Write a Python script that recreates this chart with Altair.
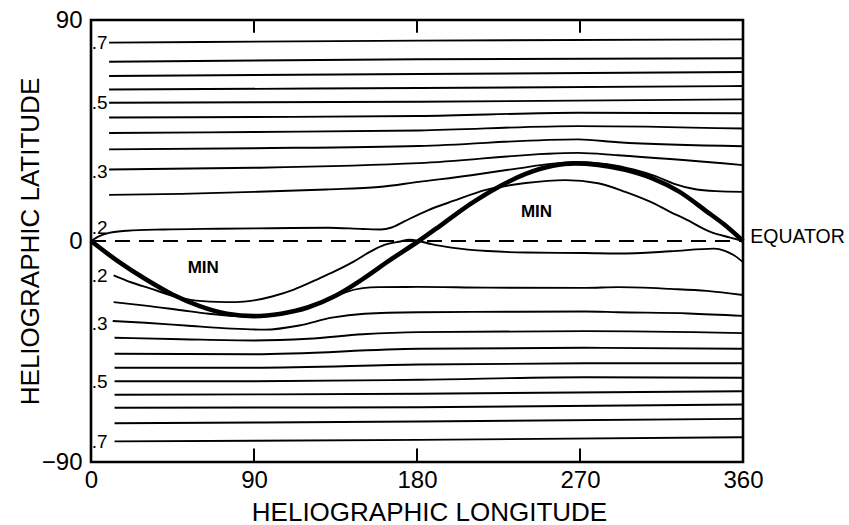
import altair as alt
import pandas as pd

FONT = "Liberation Sans"

X_TICKS = [0, 90, 180, 270, 360]
Y_TICKS = [-90, 0, 90]
INNER_TICK_LON = [90, 180, 270]

# ---- northern contours (longitude, latitude) ----
N70_LON = [10, 181, 360]
N70_LAT = [80.8, 81.6, 82.1]
N65_LON = [10, 181, 360]
N65_LAT = [73.0, 74.0, 74.4]
N60_LON = [10, 181, 360]
N60_LAT = [67.2, 68.0, 68.8]
N55_LON = [10, 181, 360]
N55_LAT = [61.7, 62.3, 63.1]
N50_LON = [10, 181, 360]
N50_LAT = [56.3, 56.7, 57.7]
N45_LON = [10, 90, 181, 269, 360]
N45_LAT = [50.3, 50.5, 50.9, 52.2, 52.0]
N40_LON = [10, 90, 181, 269, 360]
N40_LAT = [44.0, 44.4, 45.0, 46.8, 45.8]
N35_LON = [10, 90, 181, 269, 291, 360]
N35_LAT = [37.3, 37.8, 38.7, 41.4, 40.2, 38.6]
N30_LON = [10, 90, 181, 269, 291, 360]
N30_LAT = [29.1, 29.8, 31.7, 35.9, 34.9, 30.9]
N25_LON = [10, 50, 90, 130, 159, 181, 210, 236, 255, 268, 285, 300, 312, 322, 333, 345, 360]
N25_LAT = [18.8, 19.2, 20.0, 21.0, 22.0, 24.1, 26.8, 29.6, 31.5, 32.1, 31.3, 29.0, 26.3, 23.3, 21.2, 20.3, 20.0]
N20_LON = [0, 4, 10, 20, 40, 70, 100, 131, 150, 160, 166, 173, 186, 200, 218, 240, 262, 280, 295, 309, 320, 328, 342, 353, 360]
N20_LAT = [0, 1.8, 3.3, 4.2, 4.7, 5.0, 5.2, 5.4, 4.9, 4.7, 5.5, 8.0, 12.5, 16.3, 20.8, 23.6, 24.8, 23.5, 20.0, 15.9, 11.8, 9.0, 3.7, 1.4, 0]

# ---- southern contours ----
S20_LON = [12.5, 22, 33, 45, 55, 70, 80, 90, 100, 112, 125, 135, 145, 155, 162, 170, 176, 181, 188, 200, 219, 240, 273, 291, 320, 344, 350, 355, 360]
S20_LAT = [-14, -16.8, -19.4, -22.3, -24.0, -24.8, -24.9, -24.2, -22.6, -19.8, -15.6, -12.2, -8.4, -4.0, -1.6, -0.3, 0.5, 0, -1.3, -2.8, -4.1, -4.7, -4.9, -5.1, -4.2, -3.1, -4.0, -5.8, -8.6]
S25_LON = [12.5, 30, 50, 65, 80, 90, 100, 115, 130, 140, 150, 159, 180, 219, 273, 291, 320, 340, 360]
S25_LAT = [-24.9, -26.3, -28.2, -29.6, -30.6, -30.9, -30.4, -28.2, -24.5, -21.0, -19.2, -18.8, -18.7, -19.0, -19.1, -18.8, -19.5, -20.3, -22.0]
S30_LON = [12, 30, 52, 78, 96, 115, 133, 151, 181, 230, 273, 291, 330, 360]
S30_LAT = [-32.6, -33.3, -34.4, -35.7, -36.1, -34.4, -31.2, -29.6, -29.0, -28.8, -28.7, -29.0, -29.5, -30.5]
S35_LON = [13, 50, 90, 120, 150, 181, 273, 360]
S35_LAT = [-39.4, -40.0, -40.5, -39.8, -38.0, -37.1, -36.7, -37.5]
S40_LON = [13, 90, 181, 273, 360]
S40_LAT = [-45.9, -46.1, -43.9, -43.5, -43.9]
S45_LON = [13, 90, 181, 273, 360]
S45_LAT = [-51.6, -51.6, -50.3, -49.8, -49.8]
S50_LON = [13, 90, 181, 273, 360]
S50_LAT = [-57.1, -57.1, -56.5, -55.5, -55.7]
S55_LON = [13, 181, 360]
S55_LAT = [-62.6, -62.2, -61.2]
S60_LON = [13, 181, 360]
S60_LAT = [-67.9, -67.7, -66.6]
S65_LON = [13, 181, 360]
S65_LAT = [-74.2, -73.5, -72.4]
S70_LON = [13, 181, 360]
S70_LAT = [-81.6, -81.0, -79.9]

# ---- neutral line (thick) ----
THICK_LON = [0, 15, 30, 45, 60, 75, 90, 105, 120, 135, 150, 165, 181, 195, 210, 225, 240, 255, 267, 280, 295, 310, 325, 340, 350, 360]
THICK_LAT = [0, -8.3, -15.5, -21.8, -26.5, -29.6, -30.6, -29.6, -27.0, -22.3, -15.5, -7.8, 0, 7.4, 15.3, 22.0, 27.3, 30.6, 31.6, 31.0, 29.0, 25.5, 20.0, 12.0, 6.5, 0]

EQUATOR_LON = [0, 360]
EQUATOR_LAT = [0, 0]

# ---- labels ----
LEVEL_TEXT = [".7", ".5", ".3", ".2", ".2", ".3", ".5", ".7"]
LEVEL_LON = [0.4, 0.4, 0.4, 0.4, 0.4, 0.4, 0.4, 0.4]
LEVEL_LAT = [80.5, 56.0, 28.2, 5.2, -14.4, -33.6, -57.6, -82.0]
MIN_TEXT = ["MIN", "MIN"]
MIN_LON = [62, 246]
MIN_LAT = [-11.1, 11.7]
EQ_TEXT = ["EQUATOR"]
EQ_LON = [364.0]
EQ_LAT = [1.5]

contours = [
    ("N70", N70_LON, N70_LAT), ("N65", N65_LON, N65_LAT), ("N60", N60_LON, N60_LAT),
    ("N55", N55_LON, N55_LAT), ("N50", N50_LON, N50_LAT), ("N45", N45_LON, N45_LAT),
    ("N40", N40_LON, N40_LAT), ("N35", N35_LON, N35_LAT), ("N30", N30_LON, N30_LAT),
    ("N25", N25_LON, N25_LAT), ("N20", N20_LON, N20_LAT),
    ("S20", S20_LON, S20_LAT), ("S25", S25_LON, S25_LAT), ("S30", S30_LON, S30_LAT),
    ("S35", S35_LON, S35_LAT), ("S40", S40_LON, S40_LAT), ("S45", S45_LON, S45_LAT),
    ("S50", S50_LON, S50_LAT), ("S55", S55_LON, S55_LAT), ("S60", S60_LON, S60_LAT),
    ("S65", S65_LON, S65_LAT), ("S70", S70_LON, S70_LAT),
]
rows = []
for name, lons, lats in contours:
    for i, (a, b) in enumerate(zip(lons, lats)):
        rows.append({"line": name, "order": i, "lon": a, "lat": b})
thin_df = pd.DataFrame(rows)
thick_df = pd.DataFrame({"lon": THICK_LON, "lat": THICK_LAT, "order": range(len(THICK_LON))})
eq_df = pd.DataFrame({"lon": EQUATOR_LON, "lat": EQUATOR_LAT})

tick_df = pd.DataFrame({
    "lon": INNER_TICK_LON + INNER_TICK_LON,
    "lat": [-90] * 3 + [90] * 3,
    "lat2": [-84.5] * 3 + [84.8] * 3,
})
level_df = pd.DataFrame({"lon": LEVEL_LON, "lat": LEVEL_LAT, "t": LEVEL_TEXT})
min_df = pd.DataFrame({"lon": MIN_LON, "lat": MIN_LAT, "t": MIN_TEXT})
eqt_df = pd.DataFrame({"lon": EQ_LON, "lat": EQ_LAT, "t": EQ_TEXT})

X_ENC = alt.X(
    "lon:Q",
    scale=alt.Scale(domain=[0, 360], nice=False, zero=False),
    axis=alt.Axis(
        values=X_TICKS, title="HELIOGRAPHIC LONGITUDE", grid=False, domain=False,
        ticks=False, labelFlush=False, labelFontSize=24, labelFont=FONT,
        labelPadding=6, labelColor="black", labelAngle=0,
        titleFont=FONT, titleFontSize=26, titleFontWeight="normal", titleColor="black",
        titleX=338, titleY=58, titleBaseline="alphabetic", titleAlign="center",
    ),
)
Y_ENC = alt.Y(
    "lat:Q",
    scale=alt.Scale(domain=[-90, 90], nice=False, zero=False),
    axis=alt.Axis(
        values=Y_TICKS, title="HELIOGRAPHIC LATITUDE", grid=False, domain=False,
        ticks=False, labelFlush=False, labelFontSize=24, labelFont=FONT,
        labelPadding=9, labelColor="black",
        titleFont=FONT, titleFontSize=26, titleFontWeight="normal", titleColor="black",
        titleAngle=270, titleX=-53, titleY=221, titleBaseline="alphabetic", titleAlign="center",
    ),
)

thin = alt.Chart(thin_df).mark_line(
    color="black", strokeWidth=1.9, interpolate="monotone"
).encode(x=X_ENC, y=Y_ENC, detail="line:N", order="order:Q")

thick = alt.Chart(thick_df).mark_line(
    color="black", strokeWidth=4.6, interpolate="monotone"
).encode(x=X_ENC, y=Y_ENC, order="order:Q")

equator = alt.Chart(eq_df).mark_line(
    color="black", strokeWidth=1.8, strokeDash=[15, 9]
).encode(x=X_ENC, y=Y_ENC)

ticks = alt.Chart(tick_df).mark_rule(color="black", strokeWidth=2).encode(
    x=X_ENC, y=Y_ENC, y2="lat2:Q"
)

levels = alt.Chart(level_df).mark_text(
    align="left", baseline="middle", font=FONT, fontSize=19, color="black"
).encode(x=X_ENC, y=Y_ENC, text="t:N")

mins = alt.Chart(min_df).mark_text(
    align="center", baseline="middle", font=FONT, fontSize=17, fontWeight="bold", color="black"
).encode(x=X_ENC, y=Y_ENC, text="t:N")

eqt = alt.Chart(eqt_df).mark_text(
    align="left", baseline="middle", font=FONT, fontSize=19.5, color="black"
).encode(x=X_ENC, y=Y_ENC, text="t:N")

chart = alt.layer(equator, thin, thick, ticks, levels, mins, eqt).properties(
    width=652,
    height=442,
    autosize=alt.AutoSizeParams(type="none"),
    padding={"left": 91, "top": 20, "right": 106, "bottom": 63},
    background="white",
).configure_view(stroke="black", strokeWidth=2.6)

chart.save("out.html", embed_options={"renderer": "svg", "actions": False})
